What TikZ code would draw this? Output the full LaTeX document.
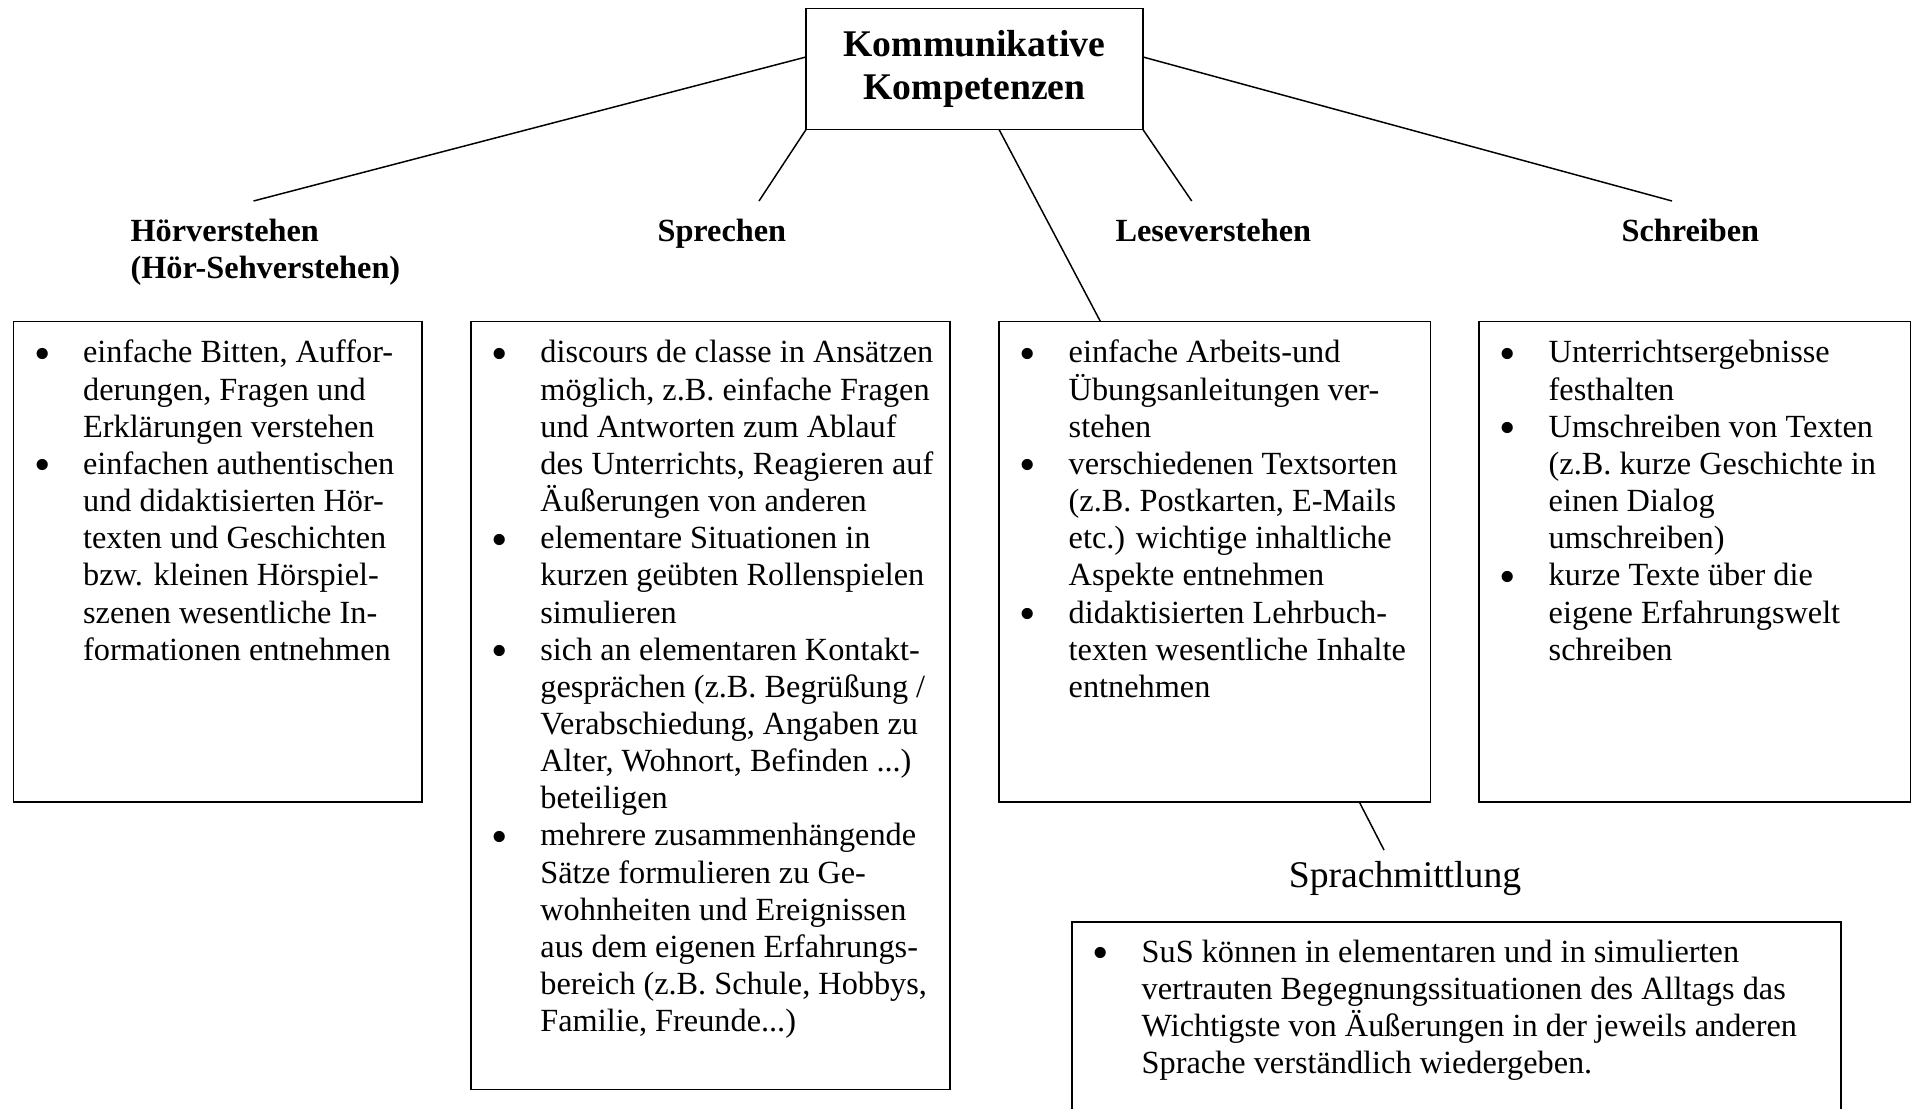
\documentclass[tikz,border=0pt]{standalone}
\usepackage{fontspec}
\usepackage{graphicx}
\setmainfont{Liberation Serif}
\usetikzlibrary{calc}
\newlength{\hangw}\setlength{\hangw}{25.7pt}
\newcommand{\kbul}{\makebox[\hangw][l]{\hspace{10.5pt}\makebox[0pt]{\raisebox{-1.5pt}{$\vcenter{\hbox{\scalebox{1.45}{\textbullet}}}$}}}}
\newcommand{\kitem}[1]{\par\noindent\hangindent=\hangw\hangafter=1\kbul#1\par}
\newcommand{\kbox}[2]{\begin{minipage}[t]{#1}\fontsize{12}{13.8}\selectfont\parindent=0pt #2\end{minipage}}
\begin{document}
\begin{tikzpicture}[x=0.3715pt,y=-0.3715pt,
  box/.style={draw, line width=0.6pt, inner sep=0pt, outer sep=0pt, anchor=north west},
  conn/.style={line width=0.55pt},
  head/.style={font=\fontsize{12}{13.8}\selectfont\bfseries, inner sep=0pt, anchor=base west},
  txt/.style={inner sep=0pt, anchor=base west}]
\useasboundingbox (0,0) rectangle (1917,1109);
\clip (0,0) rectangle (1917,1109);
\fill[white] (0,0) rectangle (1917,1109);

% title box
\node[box, minimum width={337*0.3715pt}, minimum height={121*0.3715pt},
  font=\fontsize{14}{16.1}\selectfont\bfseries, align=center] (top) at (806,8.6) {Kommunikative\\Kompetenzen};

% headings
\node[head] (h1) at (130,241) {\begin{tabular}[t]{@{}l@{}}Hörverstehen\\(Hör-Sehverstehen)\end{tabular}};
\node[head] (h2) at (657,241) {Sprechen};
\node[head] (h3) at (1115,241) {Leseverstehen};
\node[head] (h4) at (1621,241) {Schreiben};
\node[font=\fontsize{14}{16.1}\selectfont, inner sep=0pt, anchor=base] (sm) at (1405,887) {Sprachmittlung};

% boxes
\node[box, minimum width={408.4*0.3715pt}, minimum height={480.5*0.3715pt}] (b1) at (13.4,321.5) {};
\node[box, minimum width={479.3*0.3715pt}, minimum height={768*0.3715pt}] (b2) at (470.7,321.5) {};
\node[box, minimum width={431.5*0.3715pt}, minimum height={480.5*0.3715pt}] (b3) at (999,321.5) {};
\node[box, minimum width={431.5*0.3715pt}, minimum height={480.5*0.3715pt}] (b4) at (1479,321.5) {};
\node[box, minimum width={769*0.3715pt}, minimum height={300*0.3715pt}] (b5) at (1072,921.7) {};

% box texts
\node[txt] (t1) at (13.4,363) {\kbox{150pt}{%
\kitem{einfache Bitten, Auffor-\\derungen, Fragen und\\Erklärungen verstehen}%
\kitem{einfachen authentischen\\und didaktisierten Hör-\\texten und Geschichten\\bzw. kleinen Hörspiel-\\szenen wesentliche In-\\formationen entnehmen}}};

\node[txt] (t2) at (470.7,363) {\kbox{176pt}{%
\kitem{discours de classe in Ansätzen\\möglich, z.B. einfache Fragen\\und Antworten zum Ablauf\\des Unterrichts, Reagieren auf\\Äußerungen von anderen}%
\kitem{elementare Situationen in\\kurzen geübten Rollenspielen\\simulieren}%
\kitem{sich an elementaren Kontakt-\\gesprächen (z.B. Begrüßung /\\Verabschiedung, Angaben zu\\Alter, Wohnort, Befinden ...)\\beteiligen}%
\kitem{mehrere zusammenhängende\\Sätze formulieren zu Ge-\\wohnheiten und Ereignissen\\aus dem eigenen Erfahrungs-\\bereich (z.B. Schule, Hobbys,\\Familie, Freunde...)}}};

\node[txt] (t3) at (999,363) {\kbox{158pt}{%
\kitem{einfache Arbeits-und\\Übungsanleitungen ver-\\stehen}%
\kitem{verschiedenen Textsorten\\(z.B. Postkarten, E-Mails\\etc.) wichtige inhaltliche\\Aspekte entnehmen}%
\kitem{didaktisierten Lehrbuch-\\texten wesentliche Inhalte\\entnehmen}}};

\node[txt] (t4) at (1479,363) {\kbox{158pt}{%
\kitem{Unterrichtsergebnisse\\festhalten}%
\kitem{Umschreiben von Texten\\(z.B. kurze Geschichte in\\einen Dialog\\umschreiben)}%
\kitem{kurze Texte über die\\eigene Erfahrungswelt\\schreiben}}};

\node[txt] (t5) at (1072,962) {\kbox{284pt}{%
\kitem{SuS können in elementaren und in simulierten\\vertrauten Begegnungssituationen des Alltags das\\Wichtigste von Äußerungen in der jeweils anderen\\Sprache verständlich wiedergeben.}}};

% connectors
\coordinate (eH) at (253.5,201);
\coordinate (eS) at (759,201);
\coordinate (eL) at (1191.7,201);
\coordinate (eW) at (1672,201);
\coordinate (eM) at (1384,850);
\draw[conn] ($(top.north west)!0.4!(top.south west)$) -- (eH);
\draw[conn] (top.south west) -- (eS);
\draw[conn] ($(top.south west)!0.573!(top.south east)$) -- ($(b3.north west)!0.235!(b3.north east)$);
\draw[conn] (top.south east) -- (eL);
\draw[conn] ($(top.north east)!0.4!(top.south east)$) -- (eW);
\draw[conn] ($(b3.south west)!0.835!(b3.south east)$) -- (eM);
\end{tikzpicture}
\end{document}
